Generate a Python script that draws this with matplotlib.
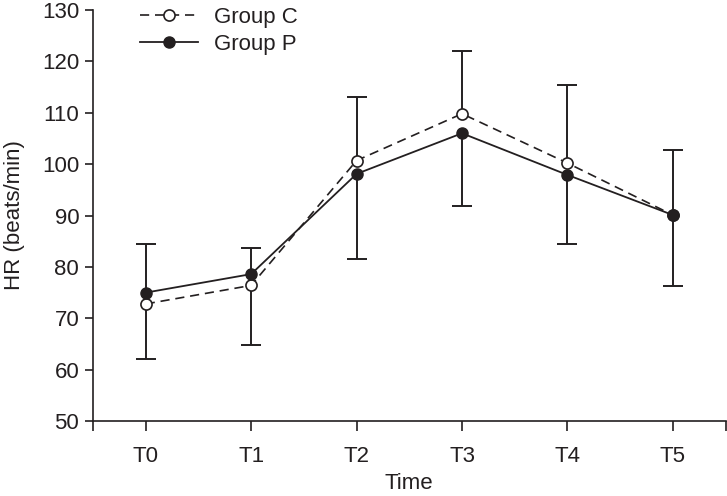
import matplotlib
matplotlib.use("Agg")
import matplotlib.pyplot as plt
import numpy as np

plt.rcParams['font.family'] = ['Liberation Sans', 'DejaVu Sans']

times = ['T0', 'T1', 'T2', 'T3', 'T4', 'T5']
group_c = [72.8, 76.4, 100.7, 109.8, 100.2, 90.1]
group_p = [75.0, 78.6, 98.1, 106.0, 97.9, 90.1]
sd_c = [10.8, 11.6, 12.4, 12.3, 15.2, 13.9]
sd_p = [9.4, 5.0, 16.6, 14.1, 13.4, 12.7]

ink = '#231f20'
fs = 16

fig = plt.figure(figsize=(7.27, 4.96), dpi=100)
ax = fig.add_axes([0.128, 0.151, 0.870, 0.829])

x = np.arange(len(times))
c = np.array(group_c)
p = np.array(group_p)
# the higher group shows its bar upward, the lower one downward
c_up = c > p
ends_c = np.where(c_up, c + np.array(sd_c), c - np.array(sd_c))
ends_p = np.where(c_up, p - np.array(sd_p), p + np.array(sd_p))

for mean, ends in [(c, ends_c), (p, ends_p)]:
    ax.vlines(x, mean, ends, color=ink, lw=1.4, zorder=2)
    ax.plot(x, ends, ls='none', marker='_', ms=14, mew=1.4, color=ink, zorder=2)

ax.plot(x, c, color=ink, ls=(0, (5.5, 3.5)), lw=1.2,
        marker='o', ms=8, mfc='white', mec=ink, mew=1.2, label='Group C', zorder=3)
ax.plot(x, p, color=ink, ls='-', lw=1.3,
        marker='o', ms=8, mfc=ink, mec=ink, label='Group P', zorder=4)

ax.set_xlim(-0.5, 5.5)
ax.set_ylim(50, 130)
ax.set_xticks(x)
ax.set_xticklabels(times)
ax.set_xticks([-0.5, 5.5], minor=True)
ax.set_yticks(np.arange(50, 131, 10))

for s in ['top', 'right']:
    ax.spines[s].set_visible(False)
for s in ['left', 'bottom']:
    ax.spines[s].set_color(ink)
    ax.spines[s].set_linewidth(1.2)
ax.tick_params(axis='both', which='both', direction='out', color=ink, width=1.2,
               labelsize=fs, labelcolor=ink)
ax.tick_params(axis='x', which='both', length=7, pad=11)
ax.tick_params(axis='y', length=6, pad=4)

ax.set_xlabel('Time', fontsize=fs, color=ink, labelpad=4)
ax.set_ylabel('HR (beats/min)', fontsize=fs, color=ink, labelpad=12)

leg = ax.legend(loc='upper left', bbox_to_anchor=(0.05, 1.045), frameon=False,
                fontsize=fs, handlelength=2.6, handletextpad=0.7,
                labelspacing=0.25, borderaxespad=0.3)
for t in leg.get_texts():
    t.set_color(ink)

fig.savefig('out.png', dpi=100)
